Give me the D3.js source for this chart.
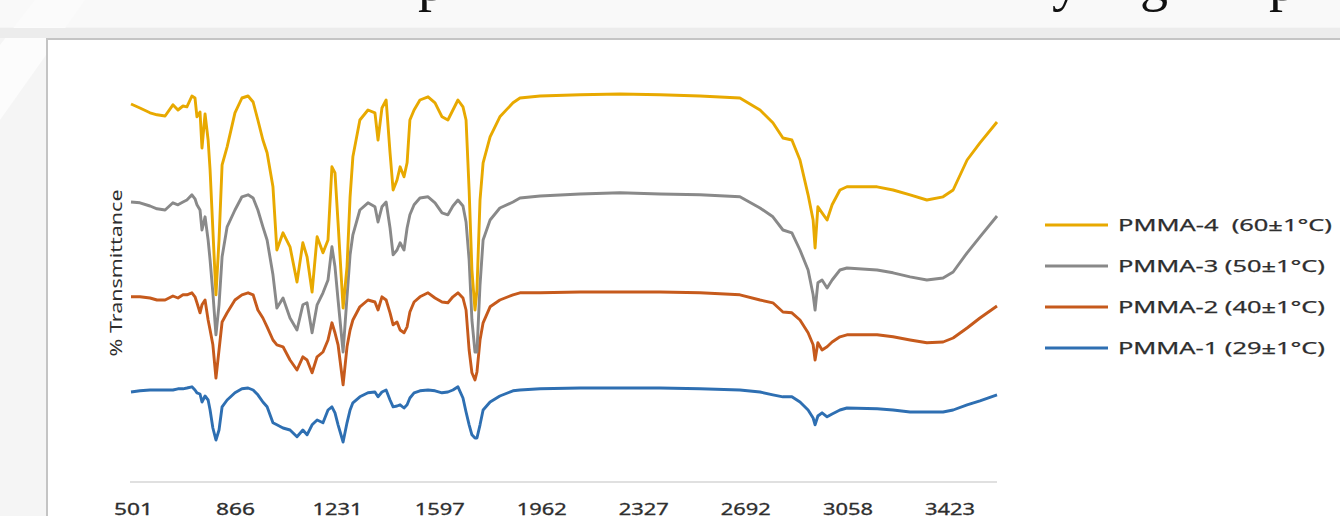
<!DOCTYPE html>
<html>
<head>
<meta charset="utf-8">
<script src="https://cdn.jsdelivr.net/npm/d3@7"></script>
<style>
  html, body { margin: 0; padding: 0; background: #f5f5f5; overflow: hidden; }
  svg { display: block; }
  .lbl { font-family: "Noto Sans", "Open Sans", sans-serif; fill: #2e2e2e; white-space: pre; }
</style>
</head>
<body>
<div id="chart-area"></div>
<script>
// ########################################
// DATA
// ########################################

// wavenumber, cm-1
const wavenumber = [501,533,569,594,623,651,669,687,701,719,730,737,748,755,766,777,784,794,805,816,
  827,845,873,898,920,938,955,973,988,1009,1023,1045,1070,1095,1116,1131,1149,1167,1188,1206,
  1220,1231,1242,1260,1274,1285,1295,1320,1349,1374,1385,1399,1414,1428,1439,1453,1464,1478,1489,1499,
  1514,1535,1564,1589,1614,1635,1653,1671,1689,1700,1711,1721,1732,1739,1750,1761,1786,1821,1868,1893,
  1965,2108,2251,2394,2537,2680,2752,2798,2834,2866,2895,2924,2942,2949,2959,2974,2992,3010,3038,3063,
  3171,3228,3289,3349,3407,3443,3493,3539,3600];

// % transmittance (curves are offset vertically, as in the original)
const pmma1 = [22.5,22.8,23,23,23,23,23.3,23.3,23.5,23.8,
  23,22.3,22,20,21.5,20.5,18,13.5,10.5,13,
  18.8,20.5,22.3,23.3,23.5,23,21.8,20,18.8,14.8,
  14.3,13.5,13,11.3,13,11.8,14.3,15.5,14.8,18,
  18.8,17.3,14.3,10,14.8,18,19.8,21.3,22.3,22.5,
  21.3,22.5,23,20.5,18.8,19,19.3,18.5,19.3,21,
  22.3,22.8,23,22.8,22.3,22.5,23,23.8,21,17.5,
  14.3,11.8,11,11,14.3,18,20,21.5,22.8,23,
  23.3,23.5,23.5,23.5,23.3,23,22.5,21.8,21.3,21.3,
  20,18,16,14.3,16.5,17.3,16.3,17,18,18.5,
  18.3,18,17.5,17.5,17.5,18,19.3,20.3,21.8];

const pmma2 = [46.3,46.3,46,45.5,45.5,46.5,46,46.8,46.8,47.3,
  46.3,44.8,42.3,44.3,45.5,40.5,38,34.3,26,33,
  40,42.3,45.5,46.8,47.3,46.8,43,41,38.8,35.5,
  34.3,33.8,30.5,28,31.3,30.5,27.3,31.3,32.5,35.5,
  39.8,37.3,34.3,24.3,33.8,38,40.5,43.8,45.5,45,
  43,46.3,45.5,42.3,39.3,40,38,37.3,38.8,42.5,
  45,46.3,47.3,46,45,44.8,46.3,47.3,46,43,
  33,27.3,25.5,27.5,35.5,39.8,43.8,45.5,46.8,47.3,
  47.3,47.5,47.5,47.5,47.3,46.8,45.5,44.8,42.5,42.3,
  40.5,37.3,34.3,30.5,34.8,33,33.8,35,36.3,36.8,
  36.8,36.3,35.5,34.8,35,36,38.5,41,44];

const pmma3 = [70,69.8,69,68.3,68,69.8,69.3,70,70.5,71.8,
  70.8,69.3,68,63,66.3,60.5,55.5,47.3,36.8,44.3,
  56.3,63.8,68,71.3,71.8,71,68,63.8,60.5,51.8,
  43.5,46,41,38,44.3,44.8,37.3,44.3,47.3,50.5,
  58.8,53.8,45.5,32.5,46.3,56.8,61.8,68,69.8,68.8,
  65,68.8,70,63.5,56.8,58,59.8,58,63.5,66.8,
  69.3,71,71.3,69.8,67.3,66.8,69,70.5,69,65,
  55.5,40.5,32.5,32.5,49.3,60.5,65.5,68.5,70,71,
  71.5,72,72.3,72,71.8,71.3,68.5,66.3,63,62.3,
  58,53,46.8,43,49.8,50.5,48.5,50.5,53,53.5,
  53,52.3,51.3,50.5,51,52.5,57.3,61.3,66.5];

const pmma4 = [94.5,93.5,92.3,91.8,91.5,94.3,93,94,93.8,96.5,
  96,91.3,92.5,83.5,92,85.5,78,63,46.8,60.5,
  79.3,83.8,92.3,96,96.5,95,90.5,85.5,82.3,73.8,
  58,62.3,58.8,50,59.8,56.3,47.5,61.3,57.3,60.5,
  78.8,77.3,64.8,43.5,53.8,71.3,81.3,90.5,93,92.3,
  85.5,93.5,95.5,82.3,73,75.5,78.8,76.3,79.8,90.5,
  93,95.5,96.3,94.8,91.3,90.5,93,95.5,93.8,90.5,
  73,53,43,48,70.5,79.8,86.3,91.3,94.8,96,
  96.5,96.8,97,96.8,96.5,96,93,89.8,86,85.5,
  80.5,71.8,65.5,58.5,68.8,67.3,65.5,69.3,73,73.8,
  73.8,73,71.8,70.5,71.3,73,80.5,84.8,90];

const seriesNames = ['PMMA-1 (29\u00b11\u00b0C)', 'PMMA-2 (40\u00b11\u00b0C)', 'PMMA-3 (50\u00b11\u00b0C)', 'PMMA-4  (60\u00b11\u00b0C)'];
const seriesValues = [pmma1, pmma2, pmma3, pmma4];
const seriesColors = ['#2e6fb2', '#c65a1c', '#898989', '#e8a900'];

const tickLabels = [501, 866, 1231, 1597, 1962, 2327, 2692, 3058, 3423];

// bits of the slide title that are cut off at the top edge
const titleGlyphs = [
  { ch: 'p', x: 432 }, { ch: 'y', x: 1066 }, { ch: 'g', x: 1154 }, { ch: 'p', x: 1283 }
];

// ########################################
// SVG + SLIDE BACKGROUND
// ########################################

const W = 1340, H = 516;
const svg = d3.select('#chart-area')
  .append('svg')
  .attr('width', W)
  .attr('height', H);

svg.append('rect').attr('width', W).attr('height', H).attr('fill', '#f5f5f5');
// pale streak top-left
svg.append('polygon')
  .attr('points', '0,45 35,0 85,0 0,120')
  .attr('fill', '#ffffff').attr('opacity', 0.7);
svg.append('rect').attr('x', 0).attr('y', 0).attr('width', W).attr('height', 27)
  .attr('fill', '#fafafa').attr('opacity', 0.8);
svg.append('rect').attr('x', 0).attr('y', 28).attr('width', W).attr('height', 10)
  .attr('fill', '#ececec');

svg.selectAll('.title-glyph')
  .data(titleGlyphs)
  .enter()
  .append('text')
  .attr('class', 'title-glyph')
  .attr('x', d => d.x)
  .attr('y', 0)
  .attr('text-anchor', 'middle')
  .attr('font-family', '"Liberation Serif", serif')
  .attr('font-size', 56)
  .attr('fill', '#111')
  .text(d => d.ch);

// chart frame
svg.append('rect')
  .attr('x', 47).attr('y', 39)
  .attr('width', 1320).attr('height', 500)
  .attr('fill', '#ffffff')
  .attr('stroke', '#c4c4c4')
  .attr('stroke-width', 2);

// ########################################
// SCALES
// ########################################

const x = d3.scaleLinear().domain([501, 3600]).range([131, 997]);
const y = d3.scaleLinear().domain([0, 100]).range([482, 82]);

// ########################################
// X AXIS
// ########################################

const xAxis = d3.axisBottom(x)
  .tickValues(tickLabels)
  .tickSize(0)
  .tickPadding(0)
  .tickFormat(d3.format('d'));

const gx = svg.append('g')
  .attr('transform', 'translate(0,482)')
  .call(xAxis);
gx.select('.domain')
  .attr('stroke', '#d6d6d6')
  .attr('stroke-width', 1.5)
  .attr('d', 'M' + (x.range()[0] - 1) + ',0H' + x.range()[1]);
gx.selectAll('.tick text')
  .attr('class', 'lbl')
  .attr('dy', 0)
  .attr('y', 33)
  .attr('dx', 2)
  .attr('font-size', 16)
  .attr('stroke', '#2e2e2e')
  .attr('stroke-width', 0.3)
  .attr('textLength', d => String(d).length > 3 ? 50 : 39)
  .attr('lengthAdjust', 'spacingAndGlyphs');

// Y axis title
svg.append('text')
  .attr('class', 'lbl')
  .attr('transform', 'translate(122,273) rotate(-90)')
  .attr('text-anchor', 'middle')
  .attr('font-size', 16)
  .attr('textLength', 167)
  .attr('lengthAdjust', 'spacingAndGlyphs')
  .text('% Transmittance');

// ########################################
// LINES
// ########################################

const line = d3.line()
  .x(d => x(d[0]))
  .y(d => y(d[1]));

svg.selectAll('.series')
  .data(seriesValues)
  .enter()
  .append('path')
  .attr('class', 'series')
  .attr('fill', 'none')
  .attr('stroke', (d, i) => seriesColors[i])
  .attr('stroke-width', 2.9)
  .attr('stroke-linejoin', 'round')
  .attr('d', vals => line(vals.map((v, i) => [wavenumber[i], v])));

// ########################################
// LEGEND (PMMA-4 on top)
// ########################################

const legend = svg.append('g');
const order = [3, 2, 1, 0];
order.forEach((s, k) => {
  const ly = 225 + k * 41;
  legend.append('line')
    .attr('x1', 1045).attr('x2', 1108)
    .attr('y1', ly).attr('y2', ly)
    .attr('stroke', seriesColors[s])
    .attr('stroke-width', 2.9);
  legend.append('text')
    .attr('class', 'lbl')
    .attr('x', 1118)
    .attr('y', ly + 6)
    .attr('font-size', 17)
    .attr('stroke', '#2e2e2e')
    .attr('stroke-width', 0.25)
    .attr('textLength', s === 3 ? 214 : 207)
    .attr('lengthAdjust', 'spacingAndGlyphs')
    .text(seriesNames[s]);
});
</script>
</body>
</html>
